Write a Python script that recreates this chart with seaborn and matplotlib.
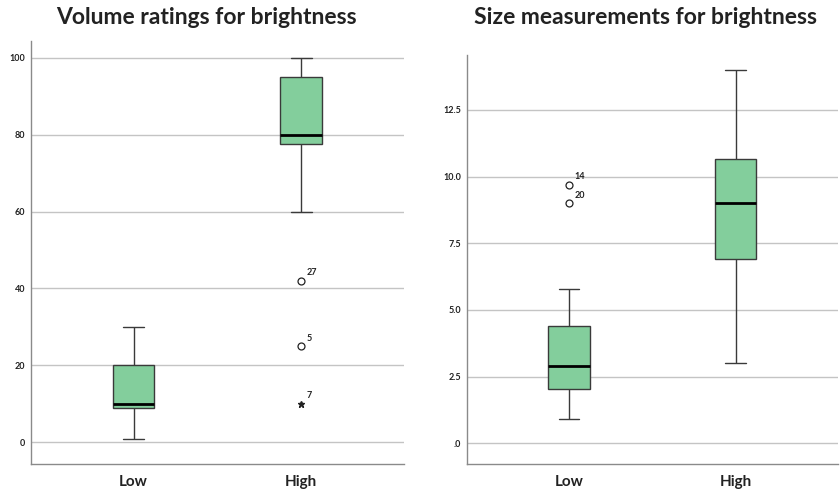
import matplotlib
matplotlib.use("Agg")
import matplotlib.pyplot as plt
import seaborn as sns
import pandas as pd

# Groups on the x axis
groups = ["Low", "High"]

# Volume ratings: five-number summary per group (lower whisker, Q1, median, Q3, upper whisker)
volume_low = [1, 9, 10, 20, 30]
volume_high = [60, 77.5, 80, 95, 100]
# Volume outliers: (group, value, case id, extreme?)
volume_out_group = ["High", "High", "High"]
volume_out_value = [42, 25, 10]
volume_out_case = ["27", "5", "7"]
volume_out_extreme = [False, False, True]

# Size measurements: five-number summary per group
size_low = [0.9, 2.05, 2.9, 4.4, 5.8]
size_high = [3.0, 6.9, 9.0, 10.65, 14.0]
size_out_group = ["Low", "Low"]
size_out_value = [9.7, 9.0]
size_out_case = ["14", "20"]
size_out_extreme = [False, False]

volume_ticks = [0, 20, 40, 60, 80, 100]
volume_ticklabels = ["0", "20", "40", "60", "80", "100"]
size_ticks = [0, 2.5, 5.0, 7.5, 10.0, 12.5]
size_ticklabels = [".0", "2.5", "5.0", "7.5", "10.0", "12.5"]

FILL = "#83CE9C"
EDGE = "#3a3a3a"
GRID = "#c4c4c4"
SPINE = "#8a8a8a"

sns.set_theme(style="white")
plt.rcParams["font.family"] = ["Lato", "DejaVu Sans"]

fig = plt.figure(figsize=(8.4, 4.91), dpi=100)
ax1 = fig.add_axes([0.0365, 0.055, 0.4444, 0.8615])
ax2 = fig.add_axes([0.5556, 0.055, 0.4420, 0.8330])


def draw_panel(ax, low, high, og, ov, oc, oe, ylim, ticks, ticklabels):
    df = pd.DataFrame({
        "group": [groups[0]] * len(low) + [groups[1]] * len(high),
        "value": list(low) + list(high),
    })
    sns.boxplot(
        data=df, x="group", y="value", order=groups, ax=ax,
        width=0.25, color=FILL, linecolor=EDGE, linewidth=1.0,
        whis=1.5, showfliers=False, saturation=1,
        medianprops=dict(color="black", linewidth=2.0),
        whiskerprops=dict(color=EDGE, linewidth=1.0),
        capprops=dict(color=EDGE, linewidth=1.0),
        boxprops=dict(edgecolor=EDGE, linewidth=1.0),
    )
    # outliers with their case numbers
    for g, v, c, ext in zip(og, ov, oc, oe):
        xpos = groups.index(g)
        if ext:
            ax.plot(xpos, v, marker="*", markersize=4.5, color="#222222",
                    linestyle="none", zorder=5)
        else:
            ax.plot(xpos, v, marker="o", markersize=5, markerfacecolor="white",
                    markeredgecolor="#222222", markeredgewidth=0.9,
                    linestyle="none", zorder=5)
        ax.annotate(c, (xpos, v), xytext=(4, 4), textcoords="offset points",
                    fontsize=6.5, fontweight="bold", color="#222222")
    ax.set_xlim(-0.614, 1.614)
    ax.set_ylim(*ylim)
    ax.set_yticks(ticks)
    ax.set_yticklabels(ticklabels, fontsize=6.5, fontweight="bold", color="#222222")
    ax.set_xticks([0, 1])
    ax.set_xticklabels(groups, fontsize=11, fontweight="bold", color="#222222")
    ax.tick_params(axis="y", length=0, pad=4)
    ax.tick_params(axis="x", length=0, pad=8)
    ax.yaxis.grid(True, color=GRID, linewidth=1.0)
    ax.set_axisbelow(True)
    ax.set_xlabel("")
    ax.set_ylabel("")
    for side in ("top", "right"):
        ax.spines[side].set_visible(False)
    for side in ("left", "bottom"):
        ax.spines[side].set_color(SPINE)
        ax.spines[side].set_linewidth(1.0)


draw_panel(ax1, volume_low, volume_high, volume_out_group, volume_out_value,
           volume_out_case, volume_out_extreme, (-5.6, 104.3),
           volume_ticks, volume_ticklabels)
draw_panel(ax2, size_low, size_high, size_out_group, size_out_value,
           size_out_case, size_out_extreme, (-0.78, 14.56),
           size_ticks, size_ticklabels)

fig.text(206 / 840, 1 - 17 / 491, "Volume ratings for brightness", ha="center",
         va="center", fontsize=16.5, fontweight="bold", color="#222222")
fig.text(646 / 840, 1 - 17 / 491, "Size measurements for brightness", ha="center",
         va="center", fontsize=16.5, fontweight="bold", color="#222222")

fig.savefig("out.png", dpi=100)
